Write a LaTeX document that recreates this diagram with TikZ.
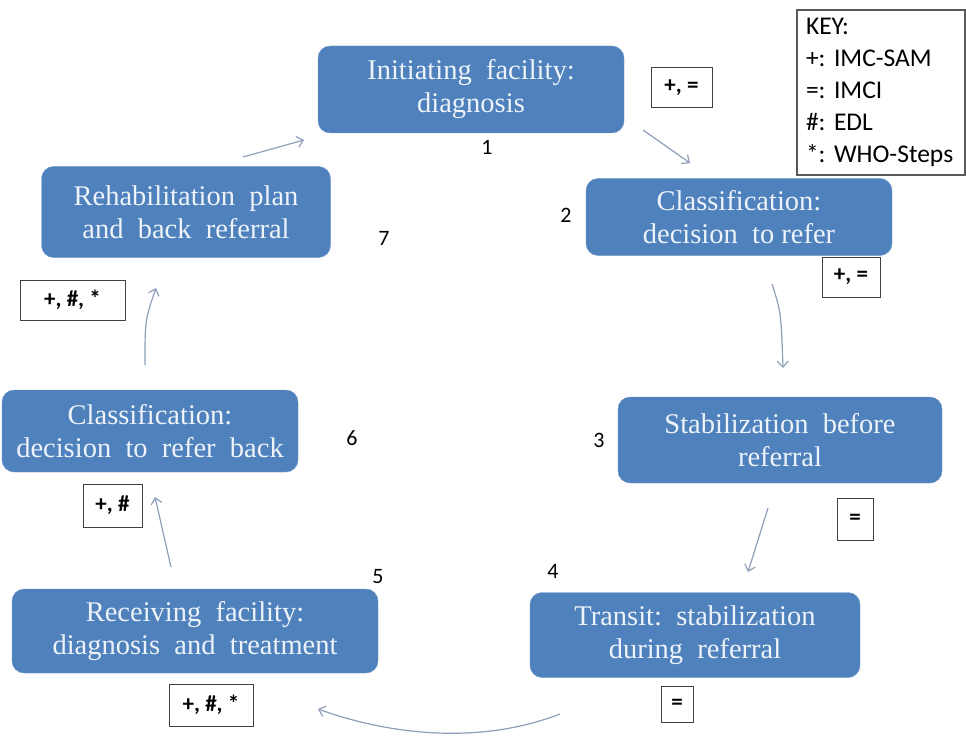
\documentclass[tikz,border=0pt]{standalone}
\usepackage{fontspec}
\setmainfont{Liberation Serif}
\newfontfamily\keyfont{Carlito}
\usetikzlibrary{arrows.meta}
\definecolor{boxblue}{HTML}{4F81BD}
\definecolor{arrowgray}{HTML}{8E9FBA}
\frenchspacing
\begin{document}
\begin{tikzpicture}[x=1pt, y=-1pt, stage/.style={draw=boxblue!80!white, fill=boxblue, rounded corners=12pt, text=white!90!boxblue, align=center, inner sep=0pt, font=\fontsize{28.5}{33}\selectfont}, tag/.style={draw=black!75, line width=1pt, fill=white, inner sep=0pt, font=\keyfont\bfseries\fontsize{23}{26}\selectfont}, num/.style={font=\keyfont\fontsize{22}{24}\selectfont}, arrow/.style={-{Straight Barb[length=6pt,width=11pt]}, draw=arrowgray, line width=1.2pt}]
\useasboundingbox (0,0) rectangle (966,738);
% stages of the referral cycle
\node[stage, minimum width=306pt, minimum height=87pt] (init) at (471,89.5) {Initiating\ \ facility:\\diagnosis};
\node[stage, minimum width=306pt, minimum height=77pt] (classif) at (739,217) {Classification:\\decision\ \ to refer};
\node[stage, minimum width=324pt, minimum height=86pt] (stab) at (780,440) {Stabilization\ \ before\\referral};
\node[stage, minimum width=330pt, minimum height=85pt] (transit) at (695,635) {Transit:\ \ stabilization\\during\ \ referral};
\node[stage, minimum width=366pt, minimum height=84pt] (recv) at (195,631) {Receiving\ \ facility:\\diagnosis\ \ and\ \ treatment};
\node[stage, minimum width=296pt, minimum height=82pt] (back) at (150,431) {Classification:\\decision\ \ to\ \ refer\ \ back};
\node[stage, minimum width=289pt, minimum height=91pt] (rehab) at (186,212) {Rehabilitation\ \ plan\\and\ \ back\ \ referral};
% step numbers
\node[num] (n1) at (487,147) {1};
\node[num] (n2) at (566,215) {2};
\node[num] (n3) at (599,440) {3};
\node[num] (n4) at (553,571) {4};
\node[num] (n5) at (378,577) {5};
\node[num] (n6) at (352,438) {6};
\node[num] (n7) at (384,238) {7};
% tool tags
\node[tag, minimum width=61pt, minimum height=40pt] (tinit) at (681.5,88) {+, =};
\node[tag, minimum width=58pt, minimum height=40pt] (tclassif) at (851,277) {+, =};
\node[tag, minimum width=36pt, minimum height=42pt] (tstab) at (855,519) {=};
\node[tag, minimum width=32pt, minimum height=36pt] (ttransit) at (677,704) {=};
\node[tag, minimum width=84pt, minimum height=42pt] (trecv) at (211,705) {+, \#, *};
\node[tag, minimum width=59pt, minimum height=43pt] (tback) at (112.5,505.5) {+, \#};
\node[tag, minimum width=105pt, minimum height=40pt] (trehab) at (72.5,300) {+, \#, *};
% key
\node[draw=black!65, line width=1.4pt, fill=white, align=left, inner xsep=9pt, inner ysep=0pt, text width=150pt, minimum height=165pt, font=\keyfont\fontsize{25.5}{32}\selectfont] (key) at (881,92.5) {KEY:\\+: IMC-SAM\\=: IMCI\\\#: EDL\\{*}: WHO-Steps};
% arrow ends
\coordinate (a1s) at (643,130); \coordinate (a1e) at (690,163);
\coordinate (a2s) at (772,284); \coordinate (a2e) at (783,368);
\coordinate (a3s) at (768,508); \coordinate (a3e) at (748,572);
\coordinate (a4s) at (560,714); \coordinate (a4e) at (318,709);
\coordinate (a5s) at (171,567); \coordinate (a5e) at (155,497);
\coordinate (a6s) at (145,365); \coordinate (a6e) at (156,288);
\coordinate (a7s) at (243,157); \coordinate (a7e) at (304,140);
\draw[arrow] (a1s) -- (a1e);
\draw[arrow] (a2s) .. controls (781,312) .. (a2e);
\draw[arrow] (a3s) -- (a3e);
\draw[arrow] (a4s) .. controls (480,745) and (390,735) .. (a4e);
\draw[arrow] (a5s) -- (a5e);
\draw[arrow] (a6s) .. controls (145,320) .. (a6e);
\draw[arrow] (a7s) -- (a7e);
\end{tikzpicture}
\end{document}
